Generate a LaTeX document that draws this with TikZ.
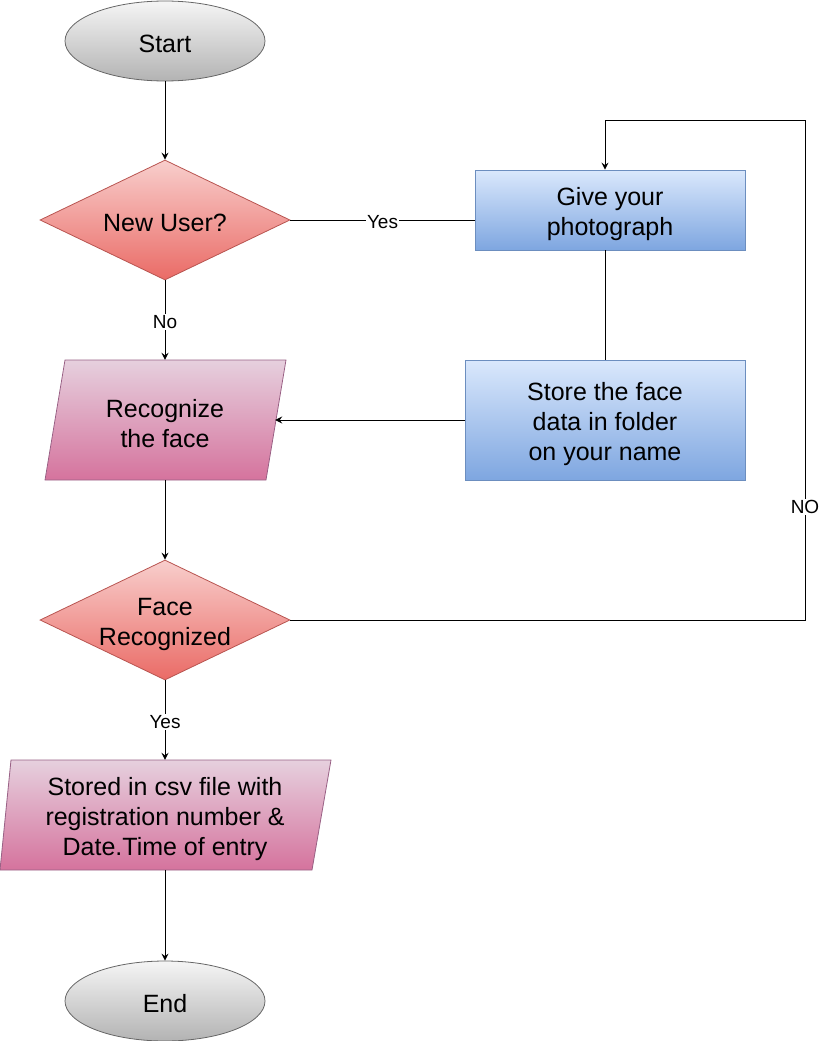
\documentclass[tikz,border=0pt]{standalone}
\usepackage{fontspec}
\setmainfont{Liberation Sans}
\usetikzlibrary{shapes.geometric,arrows.meta}

\definecolor{grayTop}{HTML}{F5F5F5}
\definecolor{grayBot}{HTML}{B3B3B3}
\definecolor{grayLine}{HTML}{666666}
\definecolor{redTop}{HTML}{F8CECC}
\definecolor{redBot}{HTML}{EA6B66}
\definecolor{redLine}{HTML}{B85450}
\definecolor{blueTop}{HTML}{DAE8FC}
\definecolor{blueBot}{HTML}{7EA6E0}
\definecolor{blueLine}{HTML}{6C8EBF}
\definecolor{pinkTop}{HTML}{E6D0DE}
\definecolor{pinkBot}{HTML}{D5739D}
\definecolor{pinkLine}{HTML}{996185}

\tikzset{
  txt/.style={align=center, font=\fontsize{25}{30}\selectfont},
  cap/.style={label={[txt, yshift=-4pt]center:{#1}}},
  capone/.style={label={[txt, yshift=-2.5pt]center:{#1}}},
  lbl/.style={fill=white, inner sep=1pt, yshift=-2pt, font=\fontsize{19}{23}\selectfont},
  terminal/.style={ellipse, draw=grayLine, line width=0.8pt, top color=grayTop, bottom color=grayBot, minimum width=200pt, minimum height=80pt},
  decision/.style={diamond, aspect=2.08, inner sep=0pt, draw=redLine, line width=0.8pt, top color=redTop, bottom color=redBot, minimum width=250pt, minimum height=120pt},
  process/.style={rectangle, draw=blueLine, line width=0.8pt, top color=blueTop, bottom color=blueBot},
  iobox/.style={draw=pinkLine, line width=0.8pt, top color=pinkTop, bottom color=pinkBot},
  arr/.style={-{Stealth[length=7pt, width=7pt, inset=2.5pt]}, line width=1pt},
  link/.style={line width=1pt}
}

\begin{document}
\begin{tikzpicture}[x=1pt, y=-1pt]
\useasboundingbox (0,0) rectangle (821,1041);

% input/output shapes
\path[iobox] (65,360) -- (286,360) -- (266,480) -- (45,480) -- cycle;
\path[iobox] (11,760) -- (331,760) -- (312,870) -- (0,870) -- cycle;

\node[terminal, capone={Start}] (start) at (165,41) {};
\node[decision, capone={New User?}] (newuser) at (165,220) {};
\node[process, minimum width=270pt, minimum height=80pt, cap={Give your\\photograph}] (give) at (610,210) {};
\node[process, minimum width=280pt, minimum height=120pt, cap={Store the face\\data in folder\\on your name}] (store) at (605,420) {};
\node[minimum width=220pt, minimum height=120pt, cap={Recognize\\the face}] (recog) at (165,420) {};
\node[decision, cap={Face\\Recognized}] (face) at (165,620) {};
\node[minimum width=312pt, minimum height=110pt, cap={Stored in csv file with\\registration number \&\\Date.Time of entry}] (csv) at (165,815) {};
\node[terminal, capone={End}] (end) at (165,1001) {};

\draw[arr] (start) -- (newuser);
\draw[link] (newuser.east) -- node[lbl] (yesTop) {Yes} (newuser.east -| give.west);
\draw[link] (store.north |- give.south) -- (store.north);
\draw[arr] (store.west) -- (recog.east);
\draw[arr] (newuser.south) -- node[lbl] (noLbl) {No} (recog.north);
\draw[arr] (recog.south) -- (face.north);
\draw[arr] (face.east) -| (805,120) -| (store.north |- give.north);
\node[lbl] (noLoop) at (805,505) {NO};
\draw[arr] (face.south) -- node[lbl] (yesLow) {Yes} (csv.north);
\draw[arr] (csv.south) -- (end.north);

\end{tikzpicture}
\end{document}
